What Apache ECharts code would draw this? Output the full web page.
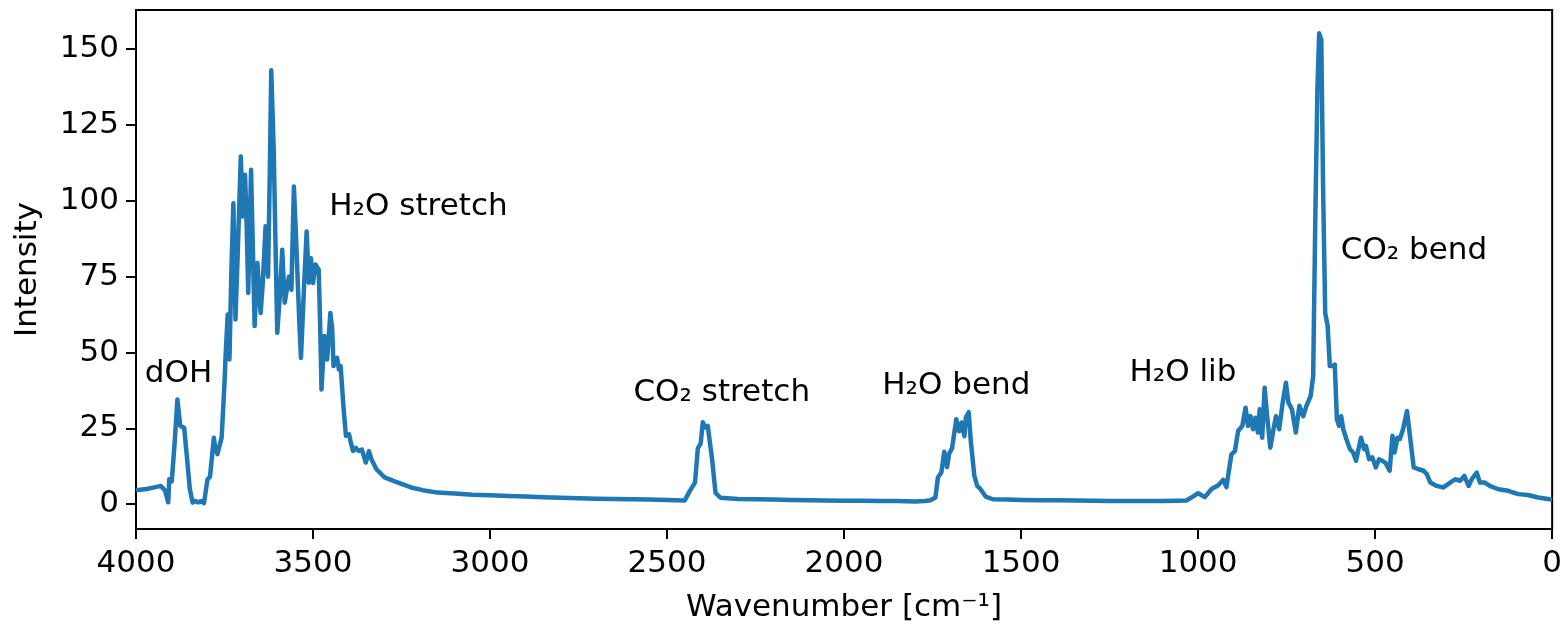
<!DOCTYPE html>
<html>
<head>
<meta charset="utf-8">
<script src="https://cdn.jsdelivr.net/npm/echarts@6/dist/echarts.min.js"></script>
<style>
  html, body { margin: 0; padding: 0; background: #fff; }
  #chart { width: 1565px; height: 628px; }
</style>
</head>
<body>
<div id="chart"></div>
<script>
// Infrared spectrum: wavenumber (cm^-1) and intensity, high to low wavenumber
const wavenumber = [
  4000, 3970, 3945, 3930, 3918, 3909, 3906, 3899, 3891, 3883, 3879, 3875, 3864, 3855, 3848, 3840,
  3832, 3824, 3816, 3808, 3798, 3791, 3780, 3776, 3770, 3765, 3758, 3750, 3747, 3741, 3736, 3731,
  3725, 3719, 3712, 3704, 3698, 3692, 3688, 3683, 3675, 3670, 3665, 3657, 3648, 3642, 3634, 3627,
  3622, 3618, 3611, 3605, 3601, 3593, 3587, 3580, 3568, 3561, 3554, 3548, 3543, 3538, 3534, 3526,
  3518, 3512, 3506, 3500, 3493, 3484, 3480, 3476, 3468, 3460, 3451, 3446, 3442, 3438, 3432, 3427,
  3422, 3414, 3407, 3398, 3393, 3387, 3379, 3371, 3362, 3351, 3342, 3335, 3321, 3298, 3260, 3223,
  3190, 3148, 3100, 3050, 3000, 2950, 2900, 2850, 2800, 2750, 2700, 2650, 2600, 2550, 2500, 2450,
  2436, 2421, 2413, 2405, 2399, 2392, 2385, 2373, 2363, 2349, 2300, 2250, 2200, 2150, 2100, 2050,
  2000, 1950, 1900, 1850, 1800, 1771, 1755, 1742, 1735, 1725, 1717, 1709, 1703, 1695, 1688, 1683,
  1675, 1668, 1660, 1656, 1648, 1642, 1632, 1624, 1615, 1600, 1580, 1540, 1500, 1450, 1400, 1343,
  1300, 1250, 1200, 1150, 1100, 1060, 1033, 1015, 1000, 981, 962, 943, 929, 920, 906, 896,
  887, 875, 866, 859, 852, 845, 838, 831, 826, 819, 812, 805, 796, 787, 780, 771,
  761, 752, 745, 735, 724, 714, 703, 694, 682, 675, 669, 663, 658, 652, 647, 641,
  634, 628, 620, 614, 608, 602, 596, 590, 581, 571, 562, 554, 540, 531, 526, 517,
  508, 498, 489, 480, 470, 459, 451, 445, 437, 430, 421, 410, 401, 391, 377, 363,
  354, 344, 326, 307, 288, 274, 260, 248, 236, 227, 213, 204, 190, 176, 152, 124,
  96, 68, 40, 7, 0
];
const intensity = [
  4.6, 5.0, 5.6, 6.0, 4.5, 0.6, 8.2, 7.5, 20, 34.5, 30, 25.8, 25.2, 14, 5, 0.5,
  1.0, 0.6, 1.0, 0.3, 8.2, 9.0, 21.9, 18.6, 16.5, 15.9, 22, 40, 48.8, 62.5, 47.7, 75,
  99.2, 60.9, 85, 114.6, 94.8, 108.6, 94.8, 69.6, 110.2, 85, 58.7, 79.5, 63, 72.7, 91.6, 75,
  110, 143, 116.8, 80, 56.5, 70, 83.9, 66.4, 75, 70.7, 104.7, 88, 72.9, 58, 48.2, 70,
  89.9, 73, 81.1, 72.9, 79, 77.3, 60, 37.8, 55.4, 47.7, 63, 58, 45.5, 46.6, 48.2, 44.4,
  45.5, 32, 22.5, 23, 20.2, 17.5, 18.5, 17.5, 18, 13.7, 17.5, 14.8, 11.5, 8.8, 7.1, 5.5,
  4.6, 3.8, 3.5, 3.1, 2.9, 2.7, 2.5, 2.3, 2.1, 1.9, 1.8, 1.7, 1.6, 1.5, 1.4, 1.2,
  4.3, 7.1, 18.4, 20, 27, 25.3, 25.8, 15, 3.7, 2.1, 1.7, 1.6, 1.5, 1.4, 1.3, 1.2,
  1.1, 1.1, 1.0, 1.0, 0.9, 1.0, 1.3, 2.2, 8.8, 10.5, 17.3, 12.2, 16.7, 18.4, 24, 28,
  24, 26.9, 22.4, 28.6, 30.3, 20.7, 9.3, 6, 5, 2.5, 1.6, 1.5, 1.4, 1.3, 1.3, 1.2,
  1.1, 1.0, 1.0, 1.0, 1.0, 1.1, 1.2, 2.5, 3.6, 2.3, 5, 6.2, 8, 5.6, 16.4, 17.5,
  24.1, 25.8, 31.8, 25.8, 29, 24.7, 28.5, 23.6, 31.3, 21.9, 38.4, 29, 18.6, 24.7, 29, 24.7,
  33.5, 40, 33.5, 31.3, 23.6, 32.4, 29, 32.4, 35.7, 42.2, 93.8, 137, 155.2, 153, 104.6, 63,
  58.7, 45.5, 45.5, 46, 28, 25.8, 29, 24.7, 21.4, 18.1, 17, 14.3, 21.9, 18.1, 19.2, 14.8,
  15.4, 12.1, 14.8, 14.3, 13.5, 11, 22.5, 17, 21.9, 21.5, 24.7, 30.7, 21.9, 12.1, 11.5, 11,
  9.9, 7.1, 6, 5.5, 7.1, 8.2, 7.7, 9.3, 6, 8.2, 10.4, 7.1, 7.1, 6, 4.9, 4.4,
  3.3, 3, 2.2, 1.6, 1.5
];

// Band labels, anchored at their left edge / vertical middle in data coordinates
const bandNames = ['dOH', 'H\u2082O stretch', 'CO\u2082 stretch', 'H\u2082O bend', 'H\u2082O lib', 'CO\u2082 bend'];
const bandWave  = [3975, 3454, 2595, 1892, 1194, 597];
const bandLevel = [42.8, 98, 36.8, 38.8, 43.4, 83.6];

const xTicks = [0, 500, 1000, 1500, 2000, 2500, 3000, 3500, 4000];
const yTicks = [0, 25, 50, 75, 100, 125, 150];

const FONT = 'DejaVu Sans';
const FS = 31;

const chart = echarts.init(document.getElementById('chart'), null, { renderer: 'canvas' });

const spectrum = wavenumber.map((w, i) => [w, intensity[i]]);
const bands = bandNames.map((n, i) => ({ value: [bandWave[i], bandLevel[i]], name: n }));

chart.setOption({
  animation: false,
  backgroundColor: '#ffffff',
  grid: {
    left: 136, right: 8, top: 10, bottom: 98,
    show: true, borderColor: '#000', borderWidth: 2, backgroundColor: 'transparent'
  },
  xAxis: {
    type: 'value',
    inverse: true,
    min: 0, max: 4000,
    name: 'Wavenumber [cm\u207B\u00B9]',
    nameLocation: 'middle',
    nameGap: 63,
    nameTextStyle: { fontFamily: FONT, fontSize: FS, color: '#000' },
    axisLine: { show: true, onZero: false, lineStyle: { color: '#000', width: 2 } },
    axisTick: { show: true, length: 10, inside: false, lineStyle: { color: '#000', width: 2 }, customValues: xTicks },
    axisLabel: { fontFamily: FONT, fontSize: FS, color: '#000', margin: 19, customValues: xTicks, formatter: v => String(v) },
    splitLine: { show: false }
  },
  yAxis: {
    type: 'value',
    min: -8.2, max: 162.9,
    name: 'Intensity',
    nameLocation: 'middle',
    nameGap: 93,
    nameRotate: 90,
    nameTextStyle: { fontFamily: FONT, fontSize: FS, color: '#000' },
    axisLine: { show: true, onZero: false, lineStyle: { color: '#000', width: 2 } },
    axisTick: { show: true, length: 10, lineStyle: { color: '#000', width: 2 }, customValues: yTicks },
    axisLabel: { fontFamily: FONT, fontSize: FS, color: '#000', margin: 17, customValues: yTicks, formatter: v => String(v) },
    splitLine: { show: false }
  },
  series: [
    {
      type: 'line',
      data: spectrum,
      showSymbol: false,
      symbol: 'none',
      lineStyle: { color: '#1f77b4', width: 4.5, join: 'round' },
      clip: true,
      z: 3
    },
    {
      type: 'scatter',
      data: bands,
      symbolSize: 0,
      silent: true,
      itemStyle: { opacity: 1 },
      label: {
        show: true,
        position: [0, 0],
        align: 'left',
        verticalAlign: 'middle',
        formatter: p => p.name,
        fontFamily: FONT,
        fontSize: FS,
        color: '#000',
        opacity: 1
      },
      z: 4
    }
  ]
});
</script>
</body>
</html>
